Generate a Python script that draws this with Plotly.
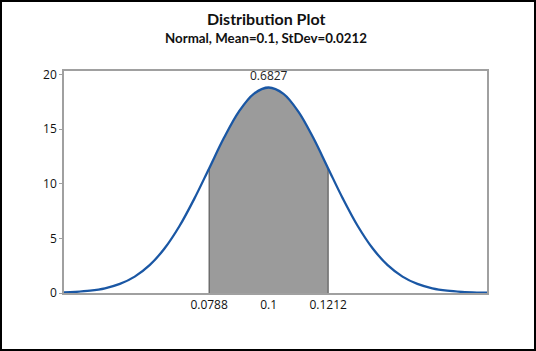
import plotly.graph_objects as go

# ---- data ----
mean = 0.1
stdev = 0.0212
shade_lo = 0.0788
shade_hi = 0.1212
shade_prob = "0.6827"

x_vals = [0.0258, 0.0311, 0.0364, 0.0417, 0.0470, 0.0523, 0.0576, 0.0629, 0.0682, 0.0735,
          0.0788, 0.0841, 0.0894, 0.0947, 0.1000, 0.1053, 0.1106, 0.1159, 0.1212,
          0.1265, 0.1318, 0.1371, 0.1424, 0.1477, 0.1530, 0.1583, 0.1636, 0.1689, 0.1742, 0.1795]
density = [0.041, 0.096, 0.21, 0.43, 0.83, 1.50, 2.55, 4.07, 6.11, 8.62,
           11.41, 14.21, 16.61, 18.24, 18.82, 18.24, 16.61, 14.21, 11.41,
           8.62, 6.11, 4.07, 2.55, 1.50, 0.83, 0.43, 0.21, 0.096, 0.041, 0.017]

x_ticks = [0.0788, 0.1, 0.1212]
x_tick_text = ["0.0788", "0.1", "0.1212"]
y_ticks = [0, 5, 10, 15, 20]

title = "Distribution Plot"
subtitle = "Normal, Mean=0.1, StDev=0.0212"

# ---- derived ----
i_lo = x_vals.index(shade_lo)
i_hi = x_vals.index(shade_hi)
sx = x_vals[i_lo:i_hi + 1]
sy = density[i_lo:i_hi + 1]
peak = max(density)

FONT = "Open Sans"
TFONT = "Lato"
W, H = 536, 351
ml, mr, mt, mb = 64, 49, 71, 58
pw, ph = W - ml - mr, H - mt - mb

fig = go.Figure()
fig.add_trace(go.Scatter(x=sx, y=sy, mode="lines", line=dict(width=0, shape="spline"),
                         fill="tozeroy", fillcolor="#9b9b9b", hoverinfo="skip"))
for xe, ye in [(shade_lo, density[i_lo]), (shade_hi, density[i_hi])]:
    fig.add_trace(go.Scatter(x=[xe, xe], y=[0, ye], mode="lines",
                             line=dict(color="#4a4a4a", width=1), hoverinfo="skip"))
fig.add_trace(go.Scatter(x=x_vals, y=density, mode="lines",
                         line=dict(color="#1a57a4", width=2.3, shape="spline")))

fig.add_annotation(x=mean, y=peak, text=shade_prob, showarrow=False, yanchor="bottom",
                   yshift=1, font=dict(family=FONT, size=12, color="#222"))

# titles
fig.add_annotation(xref="paper", yref="paper", x=(266 - ml) / pw, y=(H - mb - 18) / ph,
                   text="<b>" + title + "</b>", showarrow=False, yanchor="middle",
                   font=dict(family=TFONT, size=16, color="#111"))
fig.add_annotation(xref="paper", yref="paper", x=(266 - ml) / pw, y=(H - mb - 38) / ph,
                   text="<b>" + subtitle + "</b>", showarrow=False, yanchor="middle",
                   font=dict(family=TFONT, size=13.3, color="#111"))

# outer border
fig.add_shape(type="rect", xref="paper", yref="paper",
              x0=(1 - ml) / pw, x1=(W - 1 - ml) / pw,
              y0=(H - mb - (H - 1)) / ph, y1=(H - mb - 1) / ph,
              line=dict(color="black", width=2), layer="above")

fig.update_layout(
    width=W, height=H, margin=dict(l=ml, r=mr, t=mt, b=mb),
    paper_bgcolor="white", plot_bgcolor="white", showlegend=False,
    font=dict(family=FONT, size=12, color="#111"),
    xaxis=dict(range=[0.0271, 0.1778], tickvals=x_ticks, ticktext=x_tick_text,
               showgrid=False, zeroline=False, showline=True, mirror=True,
               linecolor="#a0a0a0", linewidth=1.5, ticks="", tickfont=dict(size=12)),
    yaxis=dict(range=[0, 20.33], tickvals=y_ticks, showgrid=False, zeroline=False,
               showline=True, mirror=True, linecolor="#a0a0a0", linewidth=1.5,
               ticks="outside", ticklen=3, tickcolor="#a0a0a0", tickfont=dict(size=12)),
)

fig.write_html("out.html")
